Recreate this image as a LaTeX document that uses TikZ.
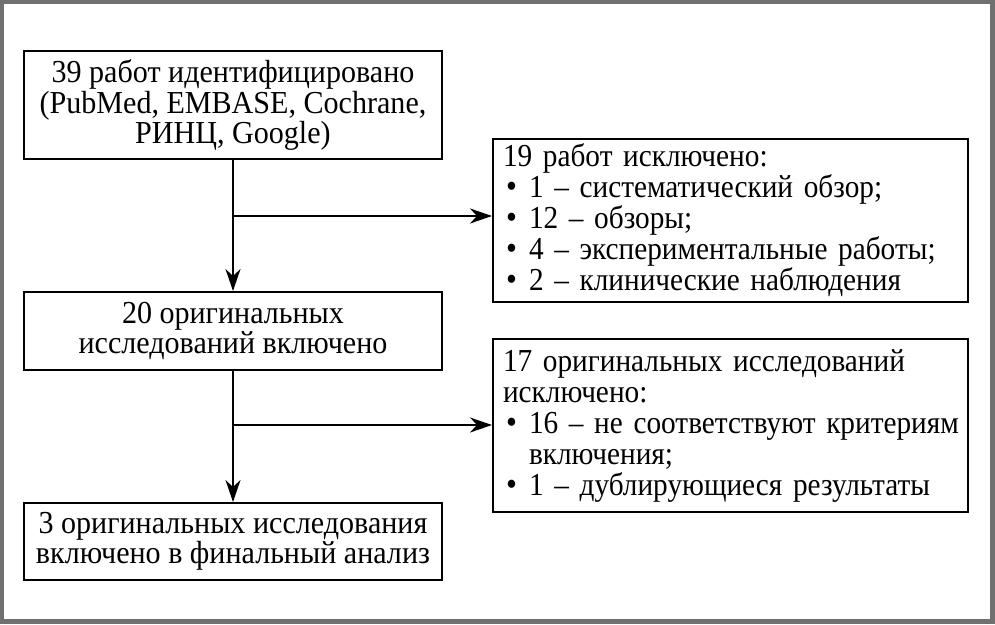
\documentclass[tikz,border=0pt]{standalone}
\usepackage{fontspec}
\setmainfont{Liberation Serif}[FakeStretch=0.94]
\newfontfamily\lfont{Liberation Serif}[FakeStretch=0.915]
\usetikzlibrary{arrows.meta,calc}
\tikzset{
  box/.style={draw=black,line width=2pt,fill=white,inner sep=0pt,align=center,
    font=\fontsize{32}{30.5}\selectfont},
  lbox/.style={draw=black,line width=2pt,fill=white,inner xsep=10pt,inner ysep=0pt,align=left,
    anchor=north west,font=\lfont\fontsize{32}{31}\selectfont},
  conn/.style={line width=2pt,-{Stealth[length=22pt,width=15pt,inset=7pt]}}
}
\newcommand\bul{\hspace*{3pt}\makebox[23pt][l]{\raisebox{0pt}[0pt][0pt]{\fontsize{34}{34}\selectfont\textbullet}}}
\newcommand\hang{\hspace*{26pt}}
\newcommand\tl[1]{\mbox{#1}}
\begin{document}
\begin{tikzpicture}[x=1pt,y=-1pt]
\fill[black!56] (0,0) rectangle (995,624);
\fill[white] (4,4) rectangle (990,619);
\useasboundingbox (0,0) rectangle (995,624);
\node[box,minimum width=418pt,minimum height=108pt] (b1) at (233,105)
  {39 работ идентифицировано\\(PubMed, EMBASE, Cochrane,\\РИНЦ, Google)};
\node[lbox,minimum width=475pt,minimum height=163pt,text width=455pt] (b2) at (492,138)
  {\tl{19 работ исключено:}\\\tl{\bul 1 – систематический обзор;}\\\tl{\bul 12 – обзоры;}\\\tl{\bul 4 – экспериментальные работы;}\\\tl{\bul 2 – клинические наблюдения}};
\node[box,minimum width=418pt,minimum height=78pt] (b3) at (233,331)
  {20 оригинальных\\исследований включено};
\node[lbox,minimum width=475pt,minimum height=173pt,text width=455pt] (b4) at (492,338)
  {\tl{17 оригинальных исследований}\\\tl{исключено:}\\\tl{\bul 16 – не соответствуют критериям}\\\tl{\hang включения;}\\\tl{\bul 1 – дублирующиеся результаты}};
\node[box,minimum width=418pt,minimum height=77pt] (b5) at (233,541.5)
  {3 оригинальных исследования\\включено в финальный анализ};
\coordinate (j1) at (233,216);
\coordinate (j2) at (233,425);
\draw[conn] (b1.south) -- (b3.north);
\draw[conn] (j1) -- (j1 -| b2.west);
\draw[conn] (b3.south) -- (b5.north);
\draw[conn] (j2) -- (j2 -| b4.west);
\end{tikzpicture}
\end{document}
